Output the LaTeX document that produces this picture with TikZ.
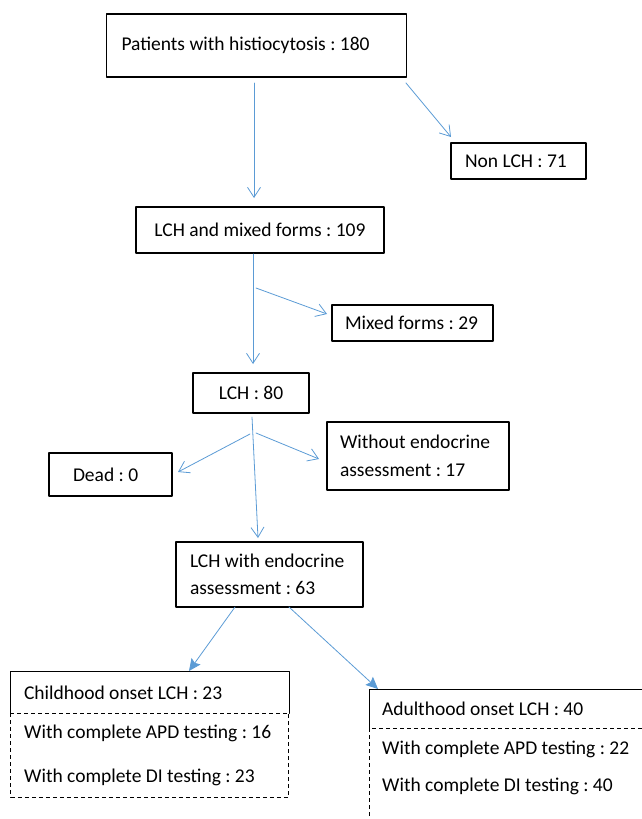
\documentclass[tikz,border=0pt]{standalone}
\usepackage{fontspec}
\setmainfont{Carlito}
\usetikzlibrary{arrows.meta}
\definecolor{flowblue}{RGB}{91,155,213}
\frenchspacing

\begin{document}
\begin{tikzpicture}[line cap=round,line join=round,x=1pt,y=-1pt,
		every node/.style={font=\fontsize{19.5}{27.5}\selectfont},
		box/.style={draw=black,line width=1.2pt,inner ysep=0pt,align=flush left},
		head/.style={inner ysep=0pt,align=flush left},
		item/.style={inner sep=0pt,anchor=west},
		dashbox/.style={draw=black,line width=1.2pt,line cap=butt,dash pattern=on 4pt off 3pt},
		flow/.style={draw=flowblue,line width=0.8pt,-{Straight Barb[length=10pt,width=13pt,line width=0.8pt]}},
		bigflow/.style={draw=flowblue,line width=0.8pt,-{Stealth[length=12pt,width=11pt,inset=2pt]}}]
		\useasboundingbox (0,0) rectangle (642,819);
		\clip (0,0) rectangle (642,819);
		% boxes
		\node[box,text width=270pt,inner xsep=15pt,minimum height=63pt] (top) at (256.5,45.5) {Patients with histiocytosis : 180};
		\node[box,text width=107pt,inner xsep=14pt,minimum height=36pt] (nonlch) at (518.5,161) {Non LCH : 71};
		\node[box,align=flush center,text width=230pt,inner xsep=9pt,minimum height=46pt] (mixall) at (260,230) {LCH and mixed forms : 109};
		\node[box,text width=135pt,inner xsep=13pt,minimum height=36pt] (mixed) at (412.5,323) {Mixed forms : 29};
		\node[box,align=flush center,text width=96pt,inner xsep=10pt,minimum height=40pt] (lch) at (251,393) {LCH : 80};
		\node[box,text width=75pt,inner xsep=24pt,minimum height=43pt] (dead) at (110.5,474.5) {Dead : 0};
		\node[box,text width=156pt,inner xsep=13pt,minimum height=68pt] (without) at (418,456) {Without endocrine\\assessment : 17};
		\node[box,text width=159pt,inner xsep=14pt,minimum height=65pt] (endo) at (269.5,574.5) {LCH with endocrine\\assessment : 63};
		% childhood group
		\node[head,text width=252pt,inner xsep=13pt,minimum height=41pt] (child) at (150,692.5) {Childhood onset LCH : 23};
		\draw[line width=1.2pt] (child.south west) -- (child.north west) -- (child.north east) -- (child.south east);
		\draw[dashbox] (child.south west) rectangle ++(278,84);
		\node[item] (childapd) at (24,733) {With complete APD testing : 16};
		\node[item] (childdi) at (24,777) {With complete DI testing : 23};
		% adulthood group
		\node[head,text width=286pt,inner xsep=12pt,minimum height=38pt] (adult) at (525,709) {Adulthood onset LCH : 40};
		\draw[line width=1.2pt] (adult.south west) -- (adult.north west) -- (adult.north east) -- (adult.south east);
		\draw[dashbox] (adult.south west) rectangle ++(310,120);
		\node[item] (adultapd) at (382,749) {With complete APD testing : 22};
		\node[item] (adultdi) at (382,786) {With complete DI testing : 40};
		% connectors
		\coordinate (topout) at (254,83);
		\coordinate (mixallin) at (254,198);
		\coordinate (nonlchout) at (406,83);
		\coordinate (nonlchin) at (451,137);
		\coordinate (mixallout) at (253,254);
		\coordinate (lchin) at (253,364);
		\coordinate (mixedout) at (256,288);
		\coordinate (mixedin) at (327,314);
		\coordinate (lchout) at (252,417);
		\coordinate (endoin) at (258,538);
		\coordinate (deadout) at (250,434);
		\coordinate (deadin) at (178,472);
		\coordinate (withoutout) at (256,433);
		\coordinate (withoutin) at (319,459);
		\coordinate (childout) at (235,607);
		\coordinate (childin) at (189,671);
		\coordinate (adultout) at (289,607);
		\coordinate (adultin) at (378,689);
		\draw[flow] (topout) -- (mixallin);
		\draw[flow] (nonlchout) -- (nonlchin);
		\draw[flow] (mixallout) -- (lchin);
		\draw[flow] (mixedout) -- (mixedin);
		\draw[flow] (lchout) -- (endoin);
		\draw[flow] (deadout) -- (deadin);
		\draw[flow] (withoutout) -- (withoutin);
		\draw[bigflow] (childout) -- (childin);
		\draw[bigflow] (adultout) -- (adultin);
\end{tikzpicture}
\end{document}
